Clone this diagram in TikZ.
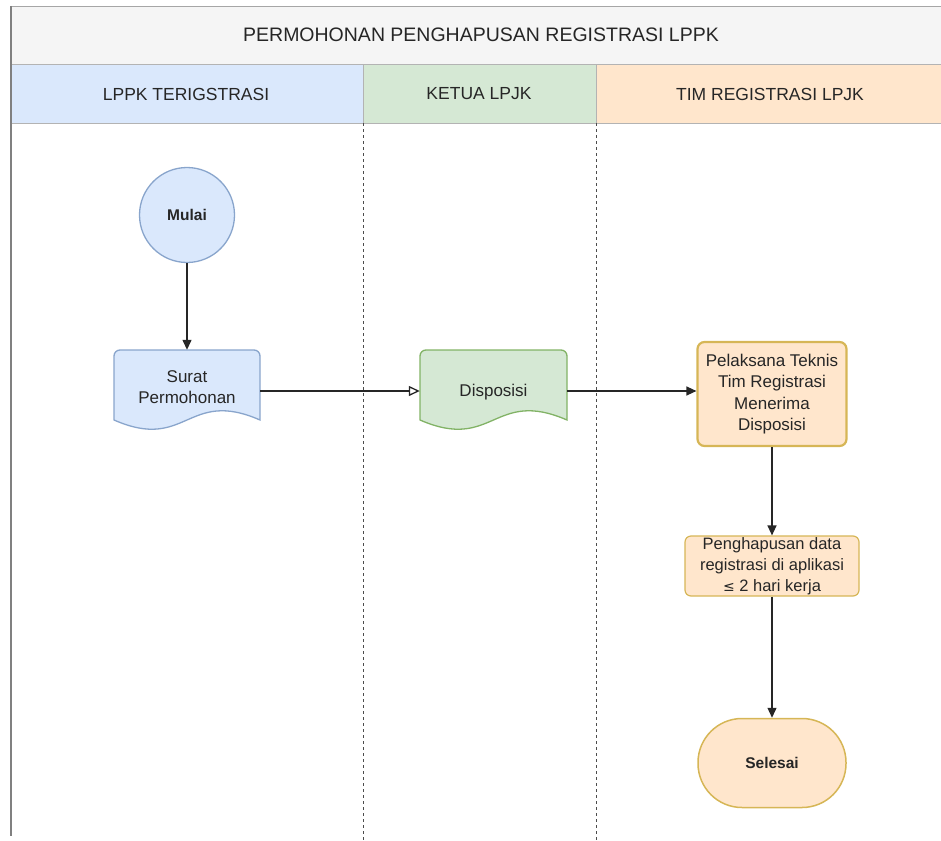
\documentclass[tikz,border=0pt]{standalone}
\usepackage{fontspec}
\setmainfont{Liberation Sans}
\newfontfamily\symfont{DejaVu Sans}
\usetikzlibrary{arrows.meta,calc}
\definecolor{bluef}{HTML}{DAE8FC}
\definecolor{blued}{HTML}{6C8EBF}
\definecolor{greenf}{HTML}{D5E8D4}
\definecolor{greend}{HTML}{82B366}
\definecolor{orangef}{HTML}{FFE6CC}
\definecolor{goldd}{HTML}{D6B656}
\definecolor{titlef}{HTML}{F5F5F5}
\definecolor{frame}{HTML}{808080}
\tikzset{
  lbl/.style={font=\fontsize{17}{21}\selectfont, text=black!85, align=center},
  hdr/.style={font=\fontsize{17.5}{20}\selectfont, text=black!85},
  conn/.style={draw=black!85, line width=1.3pt},
  tip/.style={-{Triangle[length=10pt,width=9pt]}},
  opentip/.style={-{Triangle[open,length=11pt,width=10pt,fill=white]}},
  lane/.style={draw=black!70, line width=1pt, dash pattern=on 3pt off 3pt},
  procbox/.style={draw=goldd, fill=orangef, rounded corners=7pt, align=center, text=black!85},
}
\begin{document}
\begin{tikzpicture}[x=1pt,y=-1pt]
\useasboundingbox (0,0) rectangle (941,840);
% title and header bands
\path[fill=titlef, draw=frame!70, line width=0.8pt] (11,6) rectangle (945,64);
\path[fill=bluef, draw=frame!60, line width=0.8pt] (11,64) rectangle (363,123);
\path[fill=greenf, draw=frame!60, line width=0.8pt] (363,64) rectangle (596,123);
\path[fill=orangef, draw=frame!60, line width=0.8pt] (596,64) rectangle (945,123);
\node[font=\fontsize{19.5}{22}\selectfont, text=black!85] (title) at (481,35) {PERMOHONAN PENGHAPUSAN REGISTRASI LPPK};
\node[hdr] (h1) at (186,94) {LPPK TERIGSTRASI};
\node[hdr] (h2) at (479,94) {KETUA LPJK};
\node[hdr] (h3) at (770,94) {TIM REGISTRASI LPJK};
% left frame and lane dividers
\draw[frame, line width=2pt] (11,6) -- (11,836);
\draw[lane] (363,123) -- (363,840);
\draw[lane] (596,123) -- (596,840);
% Mulai
\node[circle, draw=blued!80, fill=bluef, line width=1.3pt, minimum size=95pt, inner sep=0pt,
      font=\bfseries\fontsize{15.5}{18}\selectfont, text=black!85] (mulai) at (187,215) {Mulai};
% Surat Permohonan document
\path[draw=blued!80, fill=bluef, line width=1.3pt]
  (114,420) [rounded corners=6pt] -- (114,350) -- (260,350) [sharp corners] -- (260,420)
  .. controls (187,388) and (187,452) .. (114,420) -- cycle;
\node[minimum width=146pt, minimum height=82pt, inner sep=0pt] (surat) at (187,391) {};
\node[lbl] (surattxt) at (187,387) {Surat\\Permohonan};
% Disposisi document
\path[draw=greend, fill=greenf, line width=1.3pt]
  (420,420) [rounded corners=6pt] -- (420,350) -- (567,350) [sharp corners] -- (567,420)
  .. controls (493.5,388) and (493.5,452) .. (420,420) -- cycle;
\node[minimum width=147pt, minimum height=82pt, inner sep=0pt] (dispo) at (493.5,391) {};
\node[lbl] (dispotxt) at (493.5,392) {Disposisi};
% Pelaksana
\node[procbox, font=\fontsize{17}{21.5}\selectfont, line width=2.2pt, minimum width=149pt, minimum height=104pt, inner sep=1pt] (pel) at (772,394)
  {Pelaksana Teknis\\Tim Registrasi\\Menerima\\Disposisi};
% Penghapusan
\node[procbox, font=\fontsize{16.5}{21}\selectfont, line width=1.2pt, rounded corners=6pt, minimum width=174pt, minimum height=60pt, inner sep=1pt] (hapus) at (772,566)
  {Penghapusan data\\registrasi di aplikasi\\{\symfont\fontsize{14}{16}\selectfont ≤} 2 hari kerja};
% Selesai
\node[rounded corners=44pt, draw=goldd, fill=orangef, line width=1.5pt, minimum width=148pt, minimum height=89pt,
      font=\bfseries\fontsize{15.5}{18}\selectfont, text=black!85] (selesai) at (772,763) {Selesai};
% connectors
\draw[conn, tip] (mulai.south) -- (surat.north);
\draw[conn, opentip] (surat.east) -- (dispo.west);
\draw[conn, tip] (dispo.east) -- (pel.west |- dispo.east);
\draw[conn, tip] (pel.south) -- (hapus.north);
\draw[conn, tip] (hapus.south) -- (selesai.north);
\end{tikzpicture}
\end{document}
